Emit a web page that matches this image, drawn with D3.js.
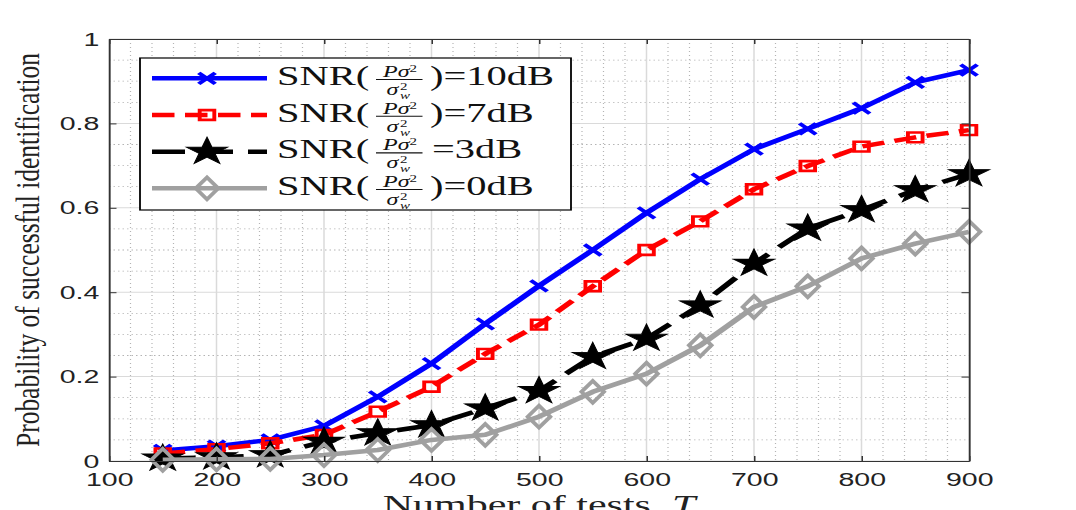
<!DOCTYPE html>
<html>
<head>
<meta charset="utf-8">
<title>Probability of successful identification</title>
<script src="https://d3js.org/d3.v7.min.js"></script>
<style>
  body { margin: 0; background: #fff; }
  svg { display: block; }
</style>
</head>
<body>
<svg id="mainsvg" width="1076" height="510"></svg>
<script>
// ---------- data ----------
const tests = [150, 200, 250, 300, 350, 400, 450, 500, 550, 600, 650, 700, 750, 800, 850, 900];
const snr10dB = [0.025, 0.035, 0.050, 0.083, 0.152, 0.231, 0.325, 0.415, 0.500, 0.588, 0.668, 0.739, 0.787, 0.836, 0.897, 0.926];
const snr7dB  = [0.018, 0.028, 0.042, 0.062, 0.117, 0.176, 0.254, 0.323, 0.414, 0.500, 0.568, 0.644, 0.699, 0.745, 0.767, 0.784];
const snr3dB  = [0.006, 0.009, 0.014, 0.046, 0.066, 0.085, 0.125, 0.166, 0.247, 0.290, 0.369, 0.468, 0.551, 0.595, 0.642, 0.680];
const snr0dB  = [0.003, 0.004, 0.005, 0.014, 0.026, 0.050, 0.062, 0.105, 0.164, 0.207, 0.274, 0.365, 0.414, 0.480, 0.515, 0.543];
const xTicks = [100, 200, 300, 400, 500, 600, 700, 800, 900];
const yTicks = [0, 0.2, 0.4, 0.6, 0.8, 1];
const legendValues = ["10dB", "7dB", "3dB", "0dB"];

// ---------- canvas ----------
const svg = d3.select("#mainsvg");
// the source figure was stretched sideways, so draw in a narrow frame and widen it
const stretch = 1.5;
const root = svg.append("g").attr("transform", `scale(${stretch},1)`);

const plot = {left: 109 / stretch, right: 969 / stretch, top: 39, bottom: 461};

const x = d3.scaleLinear().domain([100, 900]).range([plot.left, plot.right]);
const y = d3.scaleLinear().domain([0, 1]).range([plot.bottom, plot.top]);

// ---------- grid ----------
const grid = root.append("g");
const minorX = d3.range(100, 901, 20).filter(v => v % 100 !== 0);
const minorY = d3.range(0, 21).filter(i => i % 4 !== 0).map(i => i / 20);

grid.selectAll(".mx").data(minorX).join("line")
    .attr("x1", d => x(d)).attr("x2", d => x(d))
    .attr("y1", plot.top).attr("y2", plot.bottom)
    .attr("stroke", "#b4b4b4").attr("stroke-width", 0.8).attr("stroke-dasharray", "1,3");
grid.selectAll(".my").data(minorY).join("line")
    .attr("x1", plot.left).attr("x2", plot.right)
    .attr("y1", d => y(d)).attr("y2", d => y(d))
    .attr("stroke", "#b4b4b4").attr("stroke-width", 0.8).attr("stroke-dasharray", "1,2");
grid.selectAll(".gx").data(xTicks).join("line")
    .attr("x1", d => x(d)).attr("x2", d => x(d))
    .attr("y1", plot.top).attr("y2", plot.bottom)
    .attr("stroke", "#dadada").attr("stroke-width", 1);
grid.selectAll(".gy").data(yTicks).join("line")
    .attr("x1", plot.left).attr("x2", plot.right)
    .attr("y1", d => y(d)).attr("y2", d => y(d))
    .attr("stroke", "#dadada").attr("stroke-width", 1);

// ---------- markers ----------
function drawMarker(g, kind, color) {
  if (kind === "x") {
    g.append("path").attr("d", "M-5.5,-5.5L5.5,5.5M-5.5,5.5L5.5,-5.5")
      .attr("stroke", color).attr("stroke-width", 3.2).attr("fill", "none");
  } else if (kind === "square") {
    g.append("path").attr("d", d3.symbol(d3.symbolSquare, 95)())
      .attr("stroke", color).attr("stroke-width", 2.6).attr("fill", "none");
  } else if (kind === "star") {
    g.append("path").attr("d", d3.symbol(d3.symbolStar, 235)())
      .attr("fill", color).attr("stroke", color).attr("stroke-width", 0.8);
  } else if (kind === "diamond") {
    g.append("path").attr("d", "M0,-11L7.5,0L0,11L-7.5,0Z")
      .attr("stroke", color).attr("stroke-width", 3).attr("fill", "none");
  }
}

const series = [
  {values: snr10dB, color: "#0000ff", dash: null, marker: "x"},
  {values: snr7dB, color: "#ff0000", dash: "15,7", marker: "square"},
  {values: snr3dB, color: "#000000", dash: "22,10", marker: "star"},
  {values: snr0dB, color: "#a0a0a0", dash: null, marker: "diamond"}
];

const line = d3.line().x(d => x(d[0])).y(d => y(d[1]));
const curves = root.append("g");
series.forEach(s => {
  const pts = d3.zip(tests, s.values);
  curves.append("path")
      .attr("d", line(pts))
      .attr("fill", "none")
      .attr("stroke", s.color)
      .attr("stroke-width", 4.5)
      .attr("stroke-linejoin", "round")
      .attr("stroke-dasharray", s.dash);
  pts.forEach(p => {
    const m = curves.append("g").attr("transform", `translate(${x(p[0])},${y(p[1])})`);
    drawMarker(m, s.marker, s.color);
  });
});

// ---------- axes ----------
const tickFont = g => {
  g.selectAll("text").attr("font-family", "Liberation Sans, Arial, sans-serif")
      .attr("font-size", 19).attr("fill", "#222");
  g.selectAll("line").attr("stroke", "#333");
  g.select(".domain").attr("stroke", "#333").attr("stroke-width", 1.2);
};

root.append("g").attr("transform", `translate(0,${plot.bottom})`)
    .call(d3.axisBottom(x).tickValues(xTicks).tickSizeInner(-5).tickSizeOuter(0).tickPadding(12))
    .call(tickFont);
root.append("g").attr("transform", `translate(${plot.left},0)`)
    .call(d3.axisLeft(y).tickValues(yTicks).tickFormat(d3.format("~g")).tickSizeInner(-5).tickSizeOuter(0).tickPadding(6.5))
    .call(tickFont);
root.append("g").attr("transform", `translate(0,${plot.top})`)
    .call(d3.axisTop(x).tickValues(xTicks).tickFormat(() => "").tickSizeInner(-5).tickSizeOuter(0))
    .call(tickFont);
root.append("g").attr("transform", `translate(${plot.right},0)`)
    .call(d3.axisRight(y).tickValues(yTicks).tickFormat(() => "").tickSizeInner(-5).tickSizeOuter(0))
    .call(tickFont);

// axis titles
root.append("text")
    .attr("transform", `translate(26,250) rotate(-90)`)
    .attr("text-anchor", "middle")
    .attr("font-family", "Liberation Serif, Times New Roman, serif")
    .attr("font-size", 22)
    .attr("textLength", 394).attr("lengthAdjust", "spacingAndGlyphs")
    .attr("fill", "#222")
    .text("Probability of successful identification");

const xTitle = root.append("text")
    .attr("x", (plot.left + plot.right) / 2).attr("y", 514)
    .attr("text-anchor", "middle")
    .attr("font-family", "Liberation Serif, Times New Roman, serif")
    .attr("font-size", 28)
    .attr("fill", "#222");
xTitle.append("tspan").text("Number of tests, ");
xTitle.append("tspan").attr("font-style", "italic").text("T");

// ---------- legend ----------
const legend = root.append("g");
legend.append("rect")
    .attr("x", 140 / stretch).attr("y", 58)
    .attr("width", (571 - 140) / stretch).attr("height", 152)
    .attr("fill", "#fff").attr("stroke", "#000").attr("stroke-width", 1.2);

const serif = "Liberation Serif, Times New Roman, serif";
const baselines = [85, 121.7, 158.4, 195];
series.forEach((s, i) => {
  const b = baselines[i];
  const g = legend.append("g");
  g.append("line")
      .attr("x1", 152 / stretch).attr("x2", 267 / stretch)
      .attr("y1", b - 6.7).attr("y2", b - 6.7)
      .attr("stroke", s.color).attr("stroke-width", 4.5)
      .attr("stroke-dasharray", s.dash);
  drawMarker(g.append("g").attr("transform", `translate(${207 / stretch},${b - 6.7})`), s.marker, s.color);

  g.append("text").attr("x", 277 / stretch).attr("y", b)
      .attr("font-family", serif).attr("font-size", 27).attr("fill", "#111")
      .text("SNR(");

  // fraction P sigma^2 / sigma_w^2
  const cx = 400 / stretch;
  const num = g.append("text").attr("x", cx).attr("y", b - 8)
      .attr("text-anchor", "middle")
      .attr("font-family", serif).attr("font-size", 16).attr("font-style", "italic").attr("fill", "#111");
  num.append("tspan").text("Pσ");
  num.append("tspan").attr("font-size", 10).attr("font-style", "normal").attr("dy", -5).text("2");
  g.append("line")
      .attr("x1", cx - 16).attr("x2", cx + 15)
      .attr("y1", b - 5.5).attr("y2", b - 5.5)
      .attr("stroke", "#111").attr("stroke-width", 1.1);
  g.append("text").attr("x", cx - 5).attr("y", b + 10)
      .attr("text-anchor", "middle")
      .attr("font-family", serif).attr("font-size", 16).attr("font-style", "italic").attr("fill", "#111")
      .text("σ");
  g.append("text").attr("x", cx).attr("y", b + 5)
      .attr("font-family", serif).attr("font-size", 10).attr("fill", "#111")
      .text("2");
  g.append("text").attr("x", cx).attr("y", b + 14)
      .attr("font-family", serif).attr("font-size", 10).attr("font-style", "italic").attr("fill", "#111")
      .text("w");

  // the 3dB entry lacks its closing bracket in the source
  const tail = (i === 2 ? "=" : ")=") + legendValues[i];
  g.append("text").attr("x", (i === 2 ? 432 : 430) / stretch).attr("y", b)
      .attr("font-family", serif).attr("font-size", 27).attr("fill", "#111")
      .text(tail);
});
</script>
</body>
</html>
